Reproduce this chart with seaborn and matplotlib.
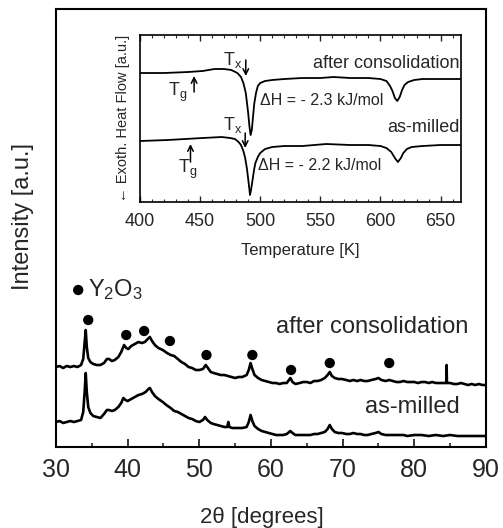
import matplotlib
matplotlib.use("Agg")
import matplotlib.pyplot as plt
import seaborn as sns
import numpy as np
import pandas as pd

# ---------------- data ----------------
two_theta_cons = [30.0, 30.5, 31.0, 31.5, 32.0, 32.5, 33.0, 33.5, 33.8, 34.0, 34.15, 34.3, 34.5, 34.8,
                  35.2, 35.7, 36.2, 36.7, 37.1, 37.4, 37.8, 38.2, 38.7, 39.1, 39.5, 39.8, 40.1, 40.5,
                  41.0, 41.5, 42.0, 42.4, 42.8, 43.1, 43.4, 43.8, 44.3, 44.9, 45.5, 46.0, 46.5, 47.0,
                  47.5, 48.0, 48.5, 49.0, 49.5, 50.0, 50.5, 50.9, 51.2, 51.6, 52.0, 52.5, 53.0, 53.5,
                  54.0, 54.5, 55.0, 55.5, 56.0, 56.6, 56.9, 57.15, 57.4, 57.7, 58.2, 58.7, 59.2, 59.7,
                  60.2, 60.7, 61.2, 61.7, 62.2, 62.7, 63.0, 63.4, 64.0, 64.5, 65.0, 65.5, 66.0, 66.5,
                  67.0, 67.5, 67.9, 68.2, 68.5, 68.9, 69.4, 69.9, 70.5, 71.0, 71.5, 72.0, 72.5, 73.0,
                  73.5, 74.0, 74.6, 75.0, 75.4, 76.0, 76.5, 77.0, 77.5, 78.0, 78.5, 79.0, 79.5, 80.0,
                  80.5, 81.0, 81.5, 82.0, 82.5, 83.0, 83.5, 84.0, 84.45, 84.5, 84.55, 85.0, 85.5, 86.0,
                  86.5, 87.0, 87.5, 88.0, 88.5, 89.0, 89.5, 90.0]
int_cons = [80, 81, 79, 81, 80, 81, 80, 82, 88, 105, 117, 100, 89, 85,
            83, 82, 82, 84, 88, 88, 86, 87, 90, 95, 102, 99, 98, 101,
            103, 105, 104, 105, 108, 110, 106, 102, 99, 97, 94, 92, 91, 88,
            85, 83, 80, 79, 77, 77, 78, 82, 79, 75, 74, 73, 72, 72,
            71, 70, 69, 70, 70, 72, 77, 84, 78, 72, 69, 67, 66, 65,
            64, 64, 63, 64, 64, 69, 65, 63, 64, 65, 65, 64, 66, 66,
            67, 69, 72, 75, 71, 69, 68, 68, 67, 66, 67, 66, 67, 66,
            66, 67, 68, 69, 67, 66, 67, 66, 65, 65, 66, 65, 65, 65,
            64, 65, 65, 64, 65, 64, 64, 64, 64, 82, 64, 64, 63, 63,
            64, 63, 62, 63, 62, 63, 62, 62]

two_theta_milled = [30.0, 30.5, 31.0, 31.5, 32.0, 32.5, 33.0, 33.5, 33.8, 34.0, 34.15, 34.3, 34.5, 34.8,
                    35.2, 35.7, 36.2, 36.7, 37.1, 37.4, 37.8, 38.2, 38.7, 39.1, 39.4, 39.7, 40.0, 40.5,
                    41.0, 41.5, 42.0, 42.5, 42.9, 43.1, 43.4, 43.8, 44.3, 44.9, 45.4, 46.0, 46.5, 47.0,
                    47.5, 48.0, 48.5, 49.0, 49.5, 50.0, 50.5, 50.8, 51.1, 51.6, 52.0, 52.5, 53.0, 53.5,
                    53.9, 54.05, 54.2, 54.6, 55.0, 55.5, 56.0, 56.6, 56.9, 57.15, 57.4, 57.7, 58.2, 58.7,
                    59.2, 59.7, 60.2, 60.7, 61.2, 61.7, 62.2, 62.7, 63.0, 63.4, 64.0, 64.5, 65.0, 65.5,
                    66.0, 66.5, 67.0, 67.5, 67.9, 68.2, 68.5, 68.9, 69.4, 69.9, 70.5, 71.0, 71.5, 72.0,
                    72.5, 73.0, 73.5, 74.0, 74.6, 75.0, 75.4, 76.0, 76.5, 77.0, 77.5, 78.0, 78.5, 79.0,
                    80.0, 81.0, 82.0, 83.0, 84.0, 85.0, 86.0, 87.0, 88.0, 89.0, 90.0]
int_milled = [25, 26, 24, 25, 26, 25, 26, 27, 35, 55, 74, 55, 40, 34,
              31, 30, 29, 33, 37, 37, 36, 37, 40, 44, 49, 47, 46, 48,
              50, 52, 53, 55, 58, 59, 55, 51, 48, 45, 42, 39, 36, 35,
              33, 31, 29, 28, 26, 25, 27, 30, 27, 24, 23, 22, 21, 20,
              20, 25, 20, 19, 19, 19, 19, 20, 25, 32, 26, 21, 18, 16,
              15, 14, 13, 12, 12, 12, 13, 16, 14, 12, 12, 12, 12, 12,
              13, 13, 14, 15, 18, 22, 18, 15, 14, 14, 13, 13, 14, 13,
              13, 12, 12, 13, 14, 15, 13, 12, 12, 12, 12, 12, 12, 11,
              12, 12, 11, 12, 11, 12, 11, 11, 11, 11, 11]

y2o3_theta = [34.5, 39.8, 42.3, 45.9, 51.0, 57.4, 62.8, 68.2, 76.5]
y2o3_int = [127, 112, 116, 106, 92, 92, 77, 84, 84]
legend_dot_theta = [33.1]
legend_dot_int = [157]

temp_cons = [400, 420, 440, 452, 462, 470, 476, 481, 484, 486, 488, 490, 491, 492, 493, 494, 495,
             496.5, 498, 500, 504, 510, 520, 535, 550, 561, 575, 590, 600, 605, 608, 610, 612,
             614, 616, 618, 620, 623, 628, 635, 650, 667]
heat_cons = [129, 129, 130, 131, 133, 133, 132, 129, 125, 119, 109, 89, 76, 67, 72, 85, 98,
             109, 116, 119, 121, 122, 123, 124, 124, 125, 124, 124, 123, 121, 116, 111, 104,
             101, 105, 112, 117, 120, 122, 123, 123, 123]
temp_milled = [400, 423, 452, 468, 475, 479, 482, 484, 486, 487.5, 489, 490.5, 491.5, 492.5, 494,
               495, 496, 498, 500, 504, 510, 520, 535, 555, 575, 590, 600, 605, 609, 612, 614.5,
               617, 619, 622, 626, 635, 650, 667]
heat_milled = [61, 62, 64, 65, 64, 63, 60, 57, 51, 44, 33, 18, 7, 13, 25,
               33, 39, 45, 49, 53, 55, 56, 56, 58, 57, 57, 56, 54, 50, 44, 40,
               44, 49, 53, 55, 56, 57, 57]

main_xticks = [30, 40, 50, 60, 70, 80, 90]
inset_xticks = [400, 450, 500, 550, 600, 650]

# ---------------- style ----------------
sns.set_style("ticks")
plt.rcParams['font.family'] = ['Liberation Sans', 'DejaVu Sans']
plt.rcParams['mathtext.default'] = 'regular'

fig = plt.figure(figsize=(5.03, 5.28), dpi=100)
ax = fig.add_axes([0.1113, 0.1534, 0.8549, 0.8295])

sns.lineplot(x=two_theta_cons, y=int_cons, ax=ax, color='black', lw=1.9,
             estimator=None, sort=False)
sns.lineplot(x=two_theta_milled, y=int_milled, ax=ax, color='black', lw=1.9,
             estimator=None, sort=False)
sns.scatterplot(x=y2o3_theta, y=y2o3_int, ax=ax, color='black', s=55, edgecolor='none')
sns.scatterplot(x=legend_dot_theta, y=legend_dot_int, ax=ax, color='black', s=55, edgecolor='none')

ax.text(34.5, 157, r'Y$_2$O$_3$', fontsize=17, ha='left', va='center')
ax.text(87.5, 120, 'after consolidation', fontsize=17, ha='right', va='center')
ax.text(86.4, 40, 'as-milled', fontsize=17, ha='right', va='center')

ax.set_xlim(30, 90)
ax.set_ylim(0, 438)
ax.set_xticks(main_xticks)
ax.set_xticks(np.arange(35, 90, 10), minor=True)
ax.set_yticks([])
ax.tick_params(axis='x', which='major', direction='in', length=5.5, width=1.3,
               labelsize=18, pad=8)
ax.tick_params(axis='x', which='minor', direction='in', length=3, width=1.2)
for sp in ax.spines.values():
    sp.set_linewidth(1.5)
    sp.set_color('black')
ax.set_xlabel('2θ [degrees]', fontsize=16)
ax.xaxis.set_label_coords(0.479, -0.137)
ax.set_ylabel('Intensity [a.u.]', fontsize=17)
ax.yaxis.set_label_coords(-0.052, 0.527)

# ---------------- inset ----------------
axi = fig.add_axes([0.2783, 0.6174, 0.6382, 0.3163])
sns.lineplot(x=temp_cons, y=heat_cons, ax=axi, color='black', lw=1.3,
             estimator=None, sort=False)
sns.lineplot(x=temp_milled, y=heat_milled, ax=axi, color='black', lw=1.3,
             estimator=None, sort=False)
axi.set_xlim(400, 667)
axi.set_ylim(0, 167)
axi.set_xticks(inset_xticks)
axi.set_xticks(np.arange(410, 667, 10), minor=True)
axi.set_yticks([])
axi.tick_params(axis='x', which='major', direction='in', length=4, width=1.0,
                labelsize=13, pad=8, top=True)
axi.tick_params(axis='x', which='minor', direction='in', length=2, width=0.8, top=True)
for sp in axi.spines.values():
    sp.set_linewidth(1.2)
    sp.set_color('black')
axi.set_xlabel('Temperature [K]', fontsize=12, labelpad=9)
axi.set_ylabel('← Exoth. Heat Flow [a.u.]', fontsize=10.5)
axi.yaxis.set_label_coords(-0.03, 0.5)

axi.text(666, 139, 'after consolidation', fontsize=13, ha='right', va='center')
axi.text(666, 75, 'as-milled', fontsize=13, ha='right', va='center')
axi.text(500, 102, 'ΔH = - 2.3 kJ/mol', fontsize=11.5, ha='left', va='center')
axi.text(498, 37, 'ΔH = - 2.2 kJ/mol', fontsize=11.5, ha='left', va='center')

axi.text(469, 142, r'$T_x$', fontsize=13, ha='left', va='center')
axi.text(423, 110, r'$T_g$', fontsize=13, ha='left', va='center')
axi.text(469, 77, r'$T_x$', fontsize=13, ha='left', va='center')
axi.text(432, 33, r'$T_g$', fontsize=13, ha='left', va='center')

arr = dict(arrowstyle='->', lw=1.1, color='black', shrinkA=0, shrinkB=0)
axi.annotate('', xy=(488, 126), xytext=(488, 142), arrowprops=arr)
axi.annotate('', xy=(445, 126), xytext=(445, 110), arrowprops=arr)
axi.annotate('', xy=(487.5, 54), xytext=(487.5, 69), arrowprops=arr)
axi.annotate('', xy=(442, 58), xytext=(442, 40), arrowprops=arr)

fig.savefig('out.png', dpi=100)
